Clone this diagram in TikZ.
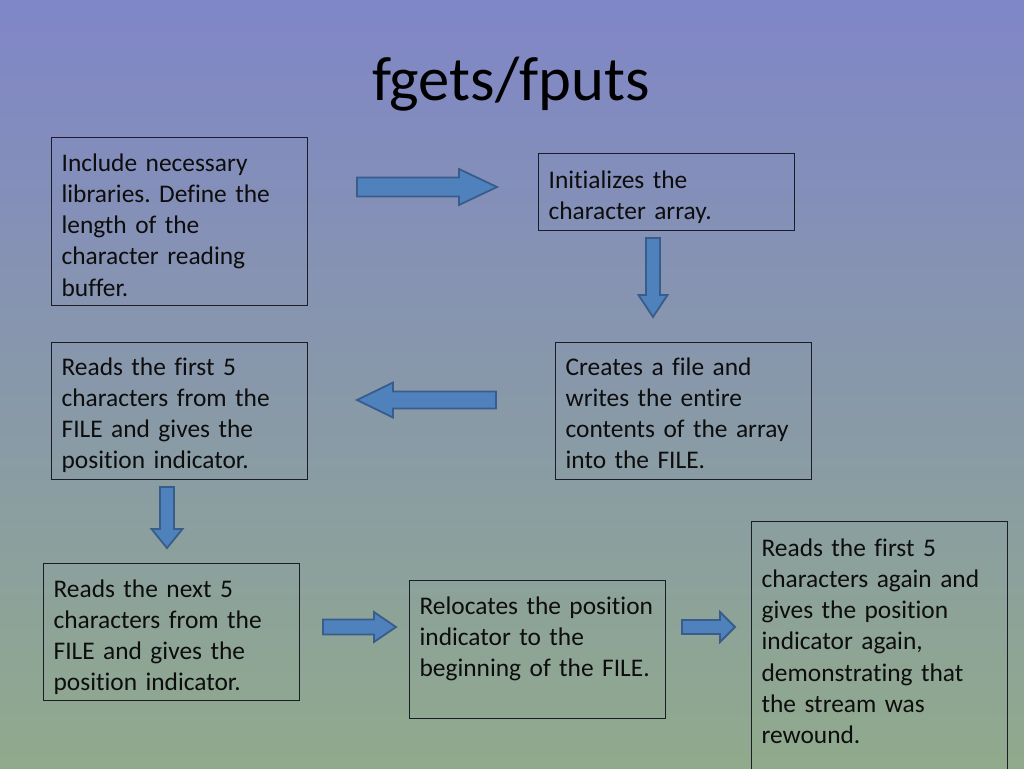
\documentclass[tikz,border=0pt]{standalone}
\usepackage{fontspec}
\setmainfont{Carlito}[Ligatures={NoCommon}, WordSpace=0.7]
\usetikzlibrary{calc}
\definecolor{bgtop}{RGB}{128,134,200}
\definecolor{bgmid}{RGB}{139,153,178}
\definecolor{bgbot}{RGB}{144,170,140}
\definecolor{arrowfill}{RGB}{79,129,189}
\definecolor{arrowline}{RGB}{56,93,138}
\definecolor{boxline}{RGB}{28,28,40}
\tikzset{
  stepbox/.style={draw=boxline, line width=1.2pt, anchor=north west, align=left,
    text width=236pt, inner xsep=10pt, inner ysep=5pt, text height=28pt,
    font=\fontsize{25.4}{31.1}\selectfont, text=black!95},
  barrow/.style={fill=arrowfill, draw=arrowline, line width=1.8pt, line join=miter}
}
\def\blockarrow(#1)(#2:#3:#4:#5:#6){\draw[barrow, shift={(#1)}, rotate=#2] (0,-#4) -- ({#3-#6},-#4) -- ({#3-#6},-#5) -- (#3,0) -- ({#3-#6},#5) -- ({#3-#6},#4) -- (0,#4) -- cycle;}
\frenchspacing

\begin{document}
\begin{tikzpicture}[x=1pt, y=-1pt]
	%%%%% START %%%%%
	
	\useasboundingbox (0,0) rectangle (1024,768);
	\shade[top color=bgtop, middle color=bgmid, bottom color=bgbot] (0,0) rectangle (1024,768);
	
	\node (title) [anchor=base, font=\fontsize{62.6}{75}\selectfont] at (511,100) {fgets/fputs};
	
	\node (include) [stepbox, text height=29pt, text depth=129pt] at (51,137) {Include necessary\\ libraries. Define the\\ length of the\\ character reading\\ buffer.};
	\node (init) [stepbox, text height=30pt, text depth=37pt] at (538,153) {Initializes the\\ character array.};
	\node (create) [stepbox, text depth=99pt] at (555,342) {Creates a file and\\ writes the entire\\ contents of the array\\ into the FILE.};
	\node (readfirst) [stepbox, text depth=99pt] at (51,342) {Reads the first 5\\ characters from the\\ FILE and gives the\\ position indicator.};
	\node (readnext) [stepbox, text height=29pt, text depth=98pt] at (43,563) {Reads the next 5\\ characters from the\\ FILE and gives the\\ position indicator.};
	\node (relocate) [stepbox, text height=29pt, text depth=99pt] at (409,580) {Relocates the position\\ indicator to the\\ beginning of the FILE.};
	\node (reread) [stepbox, text height=30pt, text depth=225pt] at (751,521) {Reads the first 5\\ characters again and\\ gives the position\\ indicator again,\\ demonstrating that\\ the stream was\\ rewound.};
	
	% block arrows between the steps
	\blockarrow(357,187)(0:140:9.5:18:38)
	\blockarrow(653,238)(-90:79:7:14.5:22)
	\blockarrow(496,400)(180:139:8.5:17.5:36)
	\blockarrow(167,487)(-90:61:7:15.5:19)
	\blockarrow(323,627)(0:73:7.5:15:22)
	\blockarrow(682,627)(0:53:7:15:15)
	
	%%%%% END %%%%%
\end{tikzpicture}
\end{document}
